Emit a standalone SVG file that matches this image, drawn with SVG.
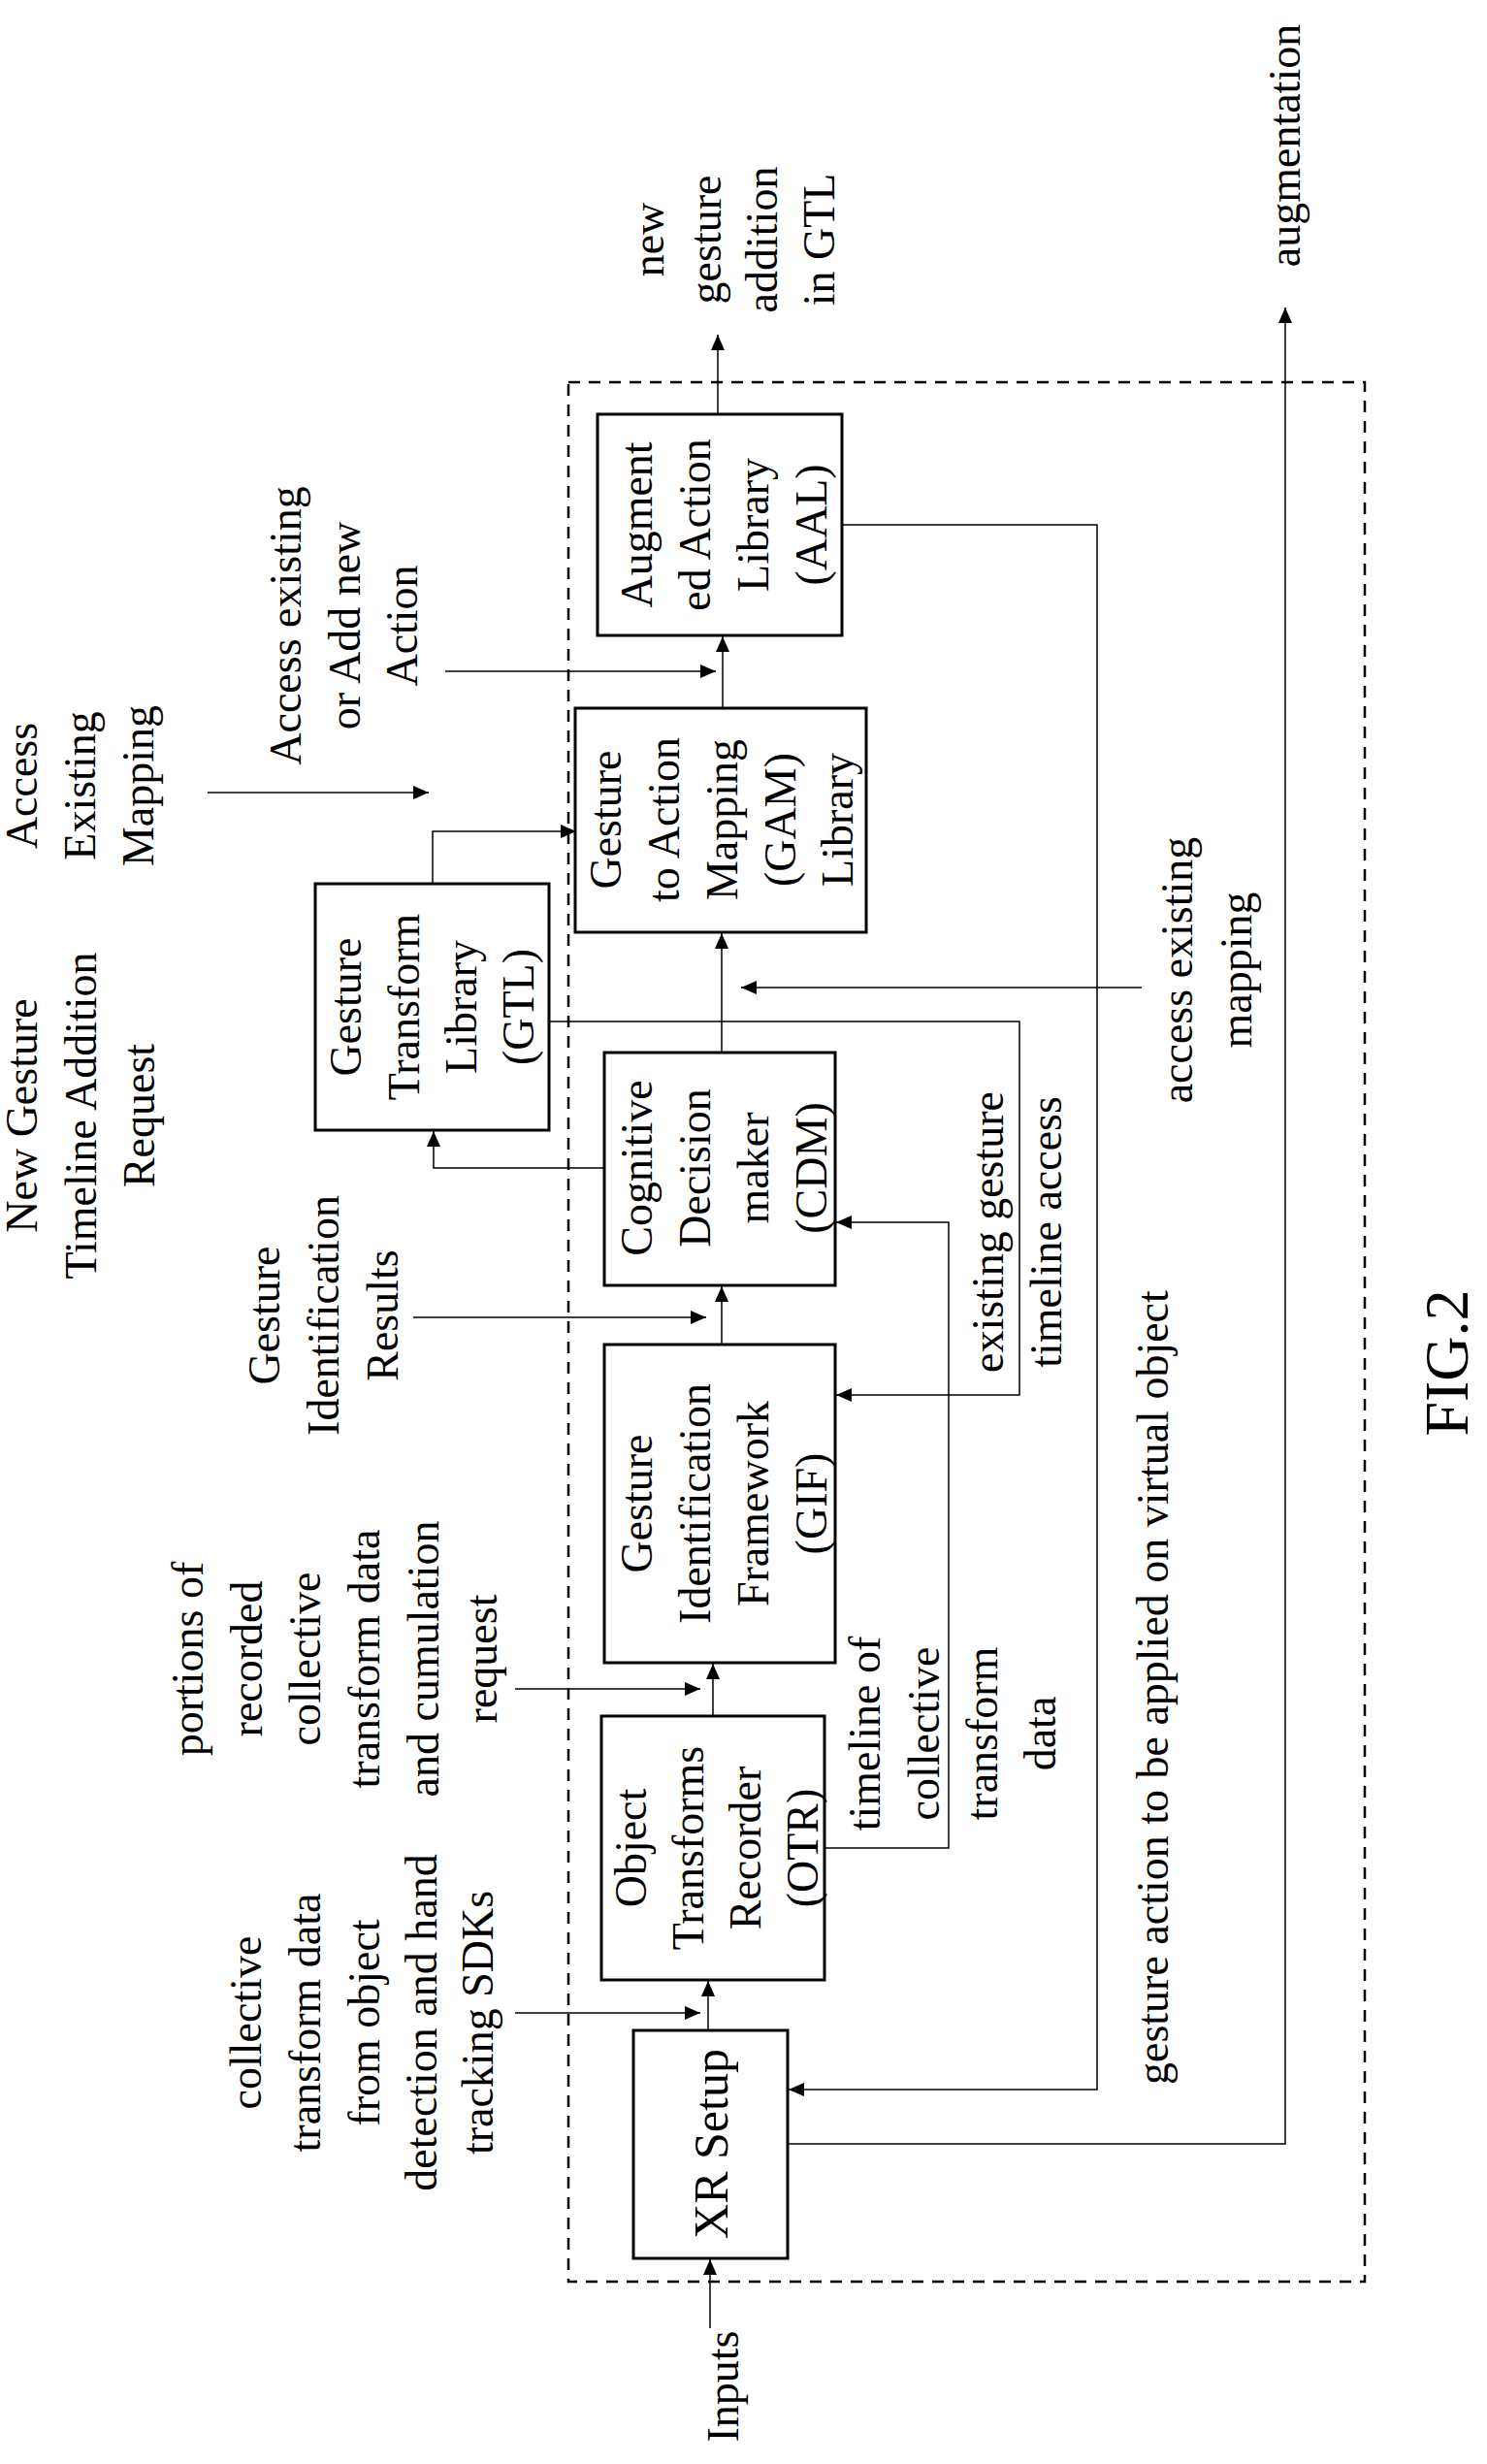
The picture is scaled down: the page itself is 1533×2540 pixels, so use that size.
<svg xmlns="http://www.w3.org/2000/svg" width="1533" height="2540" viewBox="0 0 1533 2540">
<style>
text{font-family:"Liberation Serif","Times New Roman",serif;font-size:46px;fill:#000;text-anchor:middle}
.box{fill:#fff;stroke:#000;stroke-width:3}
.c{fill:none;stroke:#000;stroke-width:1.5}
.a{marker-end:url(#ah)}
</style>
<defs>
<marker id="ah" markerUnits="userSpaceOnUse" markerWidth="20" markerHeight="16" refX="16" refY="7" orient="auto">
<path d="M0,0 L16,7 L0,14 Z" fill="#000"/>
</marker>
</defs>
<rect x="586" y="394" width="821" height="1958" fill="none" stroke="#000" stroke-width="2.5" stroke-dasharray="12 9"/>
<g id="connectors">
<line class="c a" x1="732" y1="2400" x2="732" y2="2329"/>
<line class="c a" x1="730" y1="2093" x2="730" y2="2042"/>
<line class="c a" x1="531" y1="2075" x2="722" y2="2075"/>
<line class="c a" x1="735" y1="1769" x2="735" y2="1715"/>
<line class="c a" x1="531" y1="1741" x2="722" y2="1741"/>
<line class="c a" x1="744" y1="1386" x2="744" y2="1326"/>
<line class="c a" x1="426" y1="1358" x2="728" y2="1358"/>
<line class="c a" x1="744" y1="1085" x2="744" y2="962"/>
<line class="c a" x1="1177" y1="1018" x2="764" y2="1018"/>
<polyline class="c a" points="623,1204 447,1204 447,1166"/>
<polyline class="c a" points="446,911 446,857 594,857"/>
<line class="c a" x1="214" y1="817" x2="442" y2="817"/>
<line class="c a" x1="745" y1="730" x2="745" y2="656"/>
<line class="c a" x1="459" y1="692" x2="738" y2="692"/>
<line class="c a" x1="740" y1="427" x2="740" y2="345"/>
<polyline class="c a" points="868,541 1131,541 1131,2154 813,2154"/>
<polyline class="c a" points="812,2210 1325,2210 1325,317"/>
<polyline class="c a" points="566,1053 1051,1053 1051,1438 862,1438"/>
<polyline class="c a" points="850,1905 978,1905 978,1260 862,1260"/>
</g>
<g id="aal"><rect class="box" x="616" y="427" width="252" height="228"/>
<g transform="translate(672,541) rotate(-90)"><text y="0">Augment</text><text y="60">ed Action</text><text y="120">Library</text><text y="180">(AAL)</text></g></g>
<g id="gam"><rect class="box" x="593" y="730" width="300" height="231"/>
<g transform="translate(640,845) rotate(-90)"><text y="0">Gesture</text><text y="60">to Action</text><text y="120">Mapping</text><text y="180">(GAM)</text><text y="239">Library</text></g></g>
<g id="gtl"><rect class="box" x="325" y="911" width="241" height="254"/>
<g transform="translate(372,1038) rotate(-90)"><text y="0">Gesture</text><text y="60">Transform</text><text y="119">Library</text><text y="178">(GTL)</text></g></g>
<g id="cdm"><rect class="box" x="623" y="1085" width="238" height="240"/>
<g transform="translate(672,1204) rotate(-90)"><text y="0">Cognitive</text><text y="60">Decision</text><text y="120">maker</text><text y="180">(CDM)</text></g></g>
<g id="gif"><rect class="box" x="623" y="1386" width="238" height="328"/>
<g transform="translate(672,1550) rotate(-90)"><text y="0">Gesture</text><text y="60">Identification</text><text y="120">Framework</text><text y="180">(GIF)</text></g></g>
<g id="otr"><rect class="box" x="620" y="1769" width="230" height="272"/>
<g transform="translate(666,1905) rotate(-90)"><text y="0">Object</text><text y="59">Transforms</text><text y="118">Recorder</text><text y="177">(OTR)</text></g></g>
<g id="xr"><rect class="box" x="653" y="2093" width="159" height="235"/>
<text transform="translate(750,2210) rotate(-90)" style="font-size:50px">XR Setup</text></g>
<g id="labels">
<g transform="translate(38,1150) rotate(-90)"><text y="0">New Gesture</text><text y="61">Timeline Addition</text><text y="121">Request</text></g>
<g transform="translate(38,810) rotate(-90)"><text y="0">Access</text><text y="60">Existing</text><text y="120">Mapping</text></g>
<g transform="translate(310,645) rotate(-90)"><text y="0">Access  existing</text><text y="61">or Add new</text><text y="120">Action</text></g>
<g transform="translate(288,1356) rotate(-90)"><text y="0">Gesture</text><text y="61">Identification</text><text y="122">Results</text></g>
<g transform="translate(209,1710) rotate(-90)"><text y="0">portions of</text><text y="61">recorded</text><text y="121">collective</text><text y="182">transform  data</text><text y="243">and cumulation</text><text y="303">request</text></g>
<g transform="translate(269,2085) rotate(-90)"><text y="0">collective</text><text y="61">transform  data</text><text y="122">from object</text><text y="181">detection  and hand</text><text y="239">tracking  SDKs</text></g>
<g transform="translate(907,1787) rotate(-90)"><text y="0">timeline of</text><text y="61">collective</text><text y="121">transform</text><text y="181">data</text></g>
<g transform="translate(1034,1270) rotate(-90)"><text y="0">existing  gesture</text><text y="60">timeline access</text></g>
<g transform="translate(1229,1000) rotate(-90)"><text y="0">access  existing</text><text y="61">mapping</text></g>
<g transform="translate(684,247) rotate(-90)"><text y="0">new</text><text y="59">gesture</text><text y="117">addition</text><text y="176">in GTL</text></g>
<text transform="translate(1340,150) rotate(-90)">augmentation</text>
<text transform="translate(1204,2149) rotate(-90)" style="text-anchor:start">gesture  action to be applied on virtual object</text>
<text transform="translate(761,2460) rotate(-90)">Inputs</text>
<text transform="translate(1513,1405) rotate(-90)" style="font-size:64px">FIG.2</text>
</g>
</svg>
